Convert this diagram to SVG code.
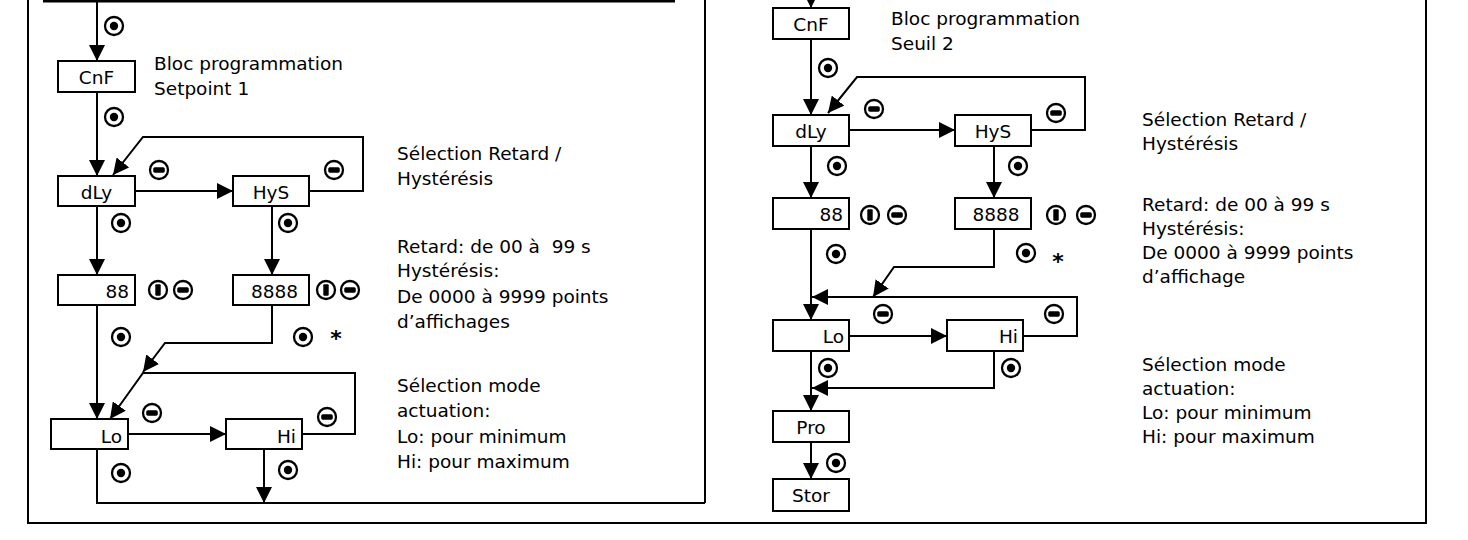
<svg xmlns="http://www.w3.org/2000/svg" width="1468" height="540" viewBox="0 0 1468 540">
<style>
  .bx{fill:#fff;stroke:#000;stroke-width:2}
  .ln{fill:none;stroke:#000;stroke-width:2}
  .ar{fill:none;stroke:#000;stroke-width:2;marker-end:url(#ah)}
  text{font-family:"DejaVu Sans","Verdana",sans-serif;font-size:18.5px;fill:#000}
  .c{text-anchor:middle}
  .e{text-anchor:end}
  .ast{font-size:22px;font-weight:bold}
</style>
<defs>
  <marker id="ah" markerUnits="userSpaceOnUse" markerWidth="16" markerHeight="16" refX="16" refY="8" orient="auto" viewBox="0 0 16 16">
    <path d="M0,0 L16,8 L0,16 Z" fill="#000"/>
  </marker>
  <g id="dot"><circle r="9" fill="#fff" stroke="#000" stroke-width="2.3"/><circle r="4.2" fill="#000"/></g>
  <g id="minus"><circle r="9" fill="#fff" stroke="#000" stroke-width="2.3"/><rect x="-5.8" y="-2.7" width="11.6" height="5.4" rx="1.6" fill="#000"/></g>
  <g id="ibar"><circle r="9" fill="#fff" stroke="#000" stroke-width="2.3"/><rect x="-2.7" y="-5.8" width="5.4" height="11.6" rx="1" fill="#000"/></g>
</defs>
<rect width="1468" height="540" fill="#fff"/>

<g id="frame">
  <path class="ln" d="M28,0 V523 H1426 V0"/>
  <path class="ln" d="M705,0 V503"/>
  <path d="M43,1 H675" stroke="#000" stroke-width="3"/>
</g>

<g id="connectors">
  <path class="ar" d="M97,2 V61"/>
  <path class="ar" d="M97,92 V176"/>
  <path class="ar" d="M135,191 H233"/>
  <path class="ar" d="M309,191 H363 V137 H143 L113,175"/>
  <path class="ar" d="M97,206 V275"/>
  <path class="ar" d="M272,206 V275"/>
  <path class="ar" d="M97,305 V419"/>
  <path class="ar" d="M272,305 V343 H165 L143,372"/>
  <path class="ar" d="M302,434 H355 V373 H143 L110,419"/>
  <path class="ar" d="M128,434 H226"/>
  <path class="ar" d="M264,449 V503"/>
  <path class="ln" d="M97,449 V503 H705"/>

  <path class="ar" d="M811,-10 V8"/>
  <path class="ar" d="M811,39 V115"/>
  <path class="ar" d="M849,130 H955"/>
  <path class="ar" d="M1031,130 H1085 V77 H857 L828,113"/>
  <path class="ar" d="M811,146 V198"/>
  <path class="ar" d="M994,146 V198"/>
  <path class="ar" d="M811,229 V320"/>
  <path class="ar" d="M994,229 V267 H894 L873,297"/>
  <path class="ar" d="M1023,336 H1077 V297 H812"/>
  <path class="ar" d="M849,336 H947"/>
  <path class="ar" d="M811,351 V411"/>
  <path class="ar" d="M994,351 V388 H812"/>
  <path class="ar" d="M811,442 V479"/>
</g>

<g id="n-cnf1"><rect class="bx" x="58" y="61" width="77" height="31"/><text class="c" x="96.5" y="84">CnF</text></g>
<g id="n-dly1"><rect class="bx" x="58" y="176" width="77" height="30"/><text class="c" x="96.5" y="199">dLy</text></g>
<g id="n-hys1"><rect class="bx" x="233" y="176" width="76" height="30"/><text class="c" x="271" y="199">HyS</text></g>
<g id="n-88a"><rect class="bx" x="58" y="275" width="77" height="30"/><text class="e" x="129" y="298">88</text></g>
<g id="n-8888a"><rect class="bx" x="233" y="275" width="76" height="30"/><text class="c" x="274.5" y="298">8888</text></g>
<g id="n-lo1"><rect class="bx" x="51" y="419" width="77" height="30"/><text class="e" x="122" y="443">Lo</text></g>
<g id="n-hi1"><rect class="bx" x="226" y="419" width="76" height="30"/><text class="e" x="296" y="443">Hi</text></g>

<g id="n-cnf2"><rect class="bx" x="773" y="8" width="76" height="31"/><text class="c" x="811" y="31">CnF</text></g>
<g id="n-dly2"><rect class="bx" x="773" y="115" width="76" height="31"/><text class="c" x="811" y="138">dLy</text></g>
<g id="n-hys2"><rect class="bx" x="955" y="115" width="76" height="31"/><text class="c" x="993" y="138">HyS</text></g>
<g id="n-88b"><rect class="bx" x="773" y="198" width="76" height="31"/><text class="e" x="843" y="221">88</text></g>
<g id="n-8888b"><rect class="bx" x="955" y="198" width="76" height="31"/><text class="c" x="996" y="221">8888</text></g>
<g id="n-lo2"><rect class="bx" x="773" y="320" width="76" height="31"/><text class="e" x="844" y="343">Lo</text></g>
<g id="n-hi2"><rect class="bx" x="947" y="320" width="76" height="31"/><text class="e" x="1018" y="343">Hi</text></g>
<g id="n-pro"><rect class="bx" x="773" y="411" width="76" height="31"/><text class="c" x="811" y="434">Pro</text></g>
<g id="n-stor"><rect class="bx" x="773" y="479" width="76" height="32"/><text class="c" x="811" y="502">Stor</text></g>

<g id="keys">
  <use href="#dot" x="114" y="26"/>
  <use href="#dot" x="114" y="117"/>
  <use href="#dot" x="121" y="223"/>
  <use href="#dot" x="288" y="223"/>
  <use href="#dot" x="121" y="337"/>
  <use href="#dot" x="303" y="337"/>
  <use href="#dot" x="121" y="473"/>
  <use href="#dot" x="288" y="470"/>
  <use href="#minus" x="159" y="170"/>
  <use href="#minus" x="334" y="170"/>
  <use href="#ibar" x="158" y="290"/>
  <use href="#minus" x="183" y="290"/>
  <use href="#ibar" x="326" y="290"/>
  <use href="#minus" x="350" y="290"/>
  <use href="#minus" x="152" y="413"/>
  <use href="#minus" x="327" y="417"/>

  <use href="#dot" x="828" y="68"/>
  <use href="#dot" x="837" y="166"/>
  <use href="#dot" x="1018" y="166"/>
  <use href="#dot" x="836" y="254"/>
  <use href="#dot" x="1026" y="253"/>
  <use href="#dot" x="828" y="368"/>
  <use href="#dot" x="1011" y="368"/>
  <use href="#dot" x="836" y="463"/>
  <use href="#minus" x="874" y="109"/>
  <use href="#minus" x="1056" y="113"/>
  <use href="#ibar" x="870" y="215"/>
  <use href="#minus" x="897" y="215"/>
  <use href="#ibar" x="1056" y="215"/>
  <use href="#minus" x="1086" y="215"/>
  <use href="#minus" x="883" y="314"/>
  <use href="#minus" x="1054" y="314"/>
  <text class="c ast" x="336" y="346">*</text>
  <text class="c ast" x="1058" y="269">*</text>
</g>

<g id="notes">
  <text x="154" y="70">Bloc programmation</text>
  <text x="154" y="95">Setpoint 1</text>
  <text x="397" y="160">Sélection Retard /</text>
  <text x="397" y="185">Hystérésis</text>
  <text x="397" y="253" xml:space="preserve">Retard: de 00 à  99 s</text>
  <text x="397" y="277">Hystérésis:</text>
  <text x="397" y="303">De 0000 à 9999 points</text>
  <text x="397" y="328">d’affichages</text>
  <text x="397" y="392">Sélection mode</text>
  <text x="397" y="417">actuation:</text>
  <text x="397" y="443">Lo: pour minimum</text>
  <text x="397" y="468">Hi: pour maximum</text>

  <text x="891" y="25">Bloc programmation</text>
  <text x="891" y="50">Seuil 2</text>
  <text x="1142" y="126">Sélection Retard /</text>
  <text x="1142" y="150">Hystérésis</text>
  <text x="1142" y="211">Retard: de 00 à 99 s</text>
  <text x="1142" y="235">Hystérésis:</text>
  <text x="1142" y="259">De 0000 à 9999 points</text>
  <text x="1142" y="283">d’affichage</text>
  <text x="1142" y="371">Sélection mode</text>
  <text x="1142" y="395">actuation:</text>
  <text x="1142" y="419">Lo: pour minimum</text>
  <text x="1142" y="443">Hi: pour maximum</text>
</g>
</svg>
